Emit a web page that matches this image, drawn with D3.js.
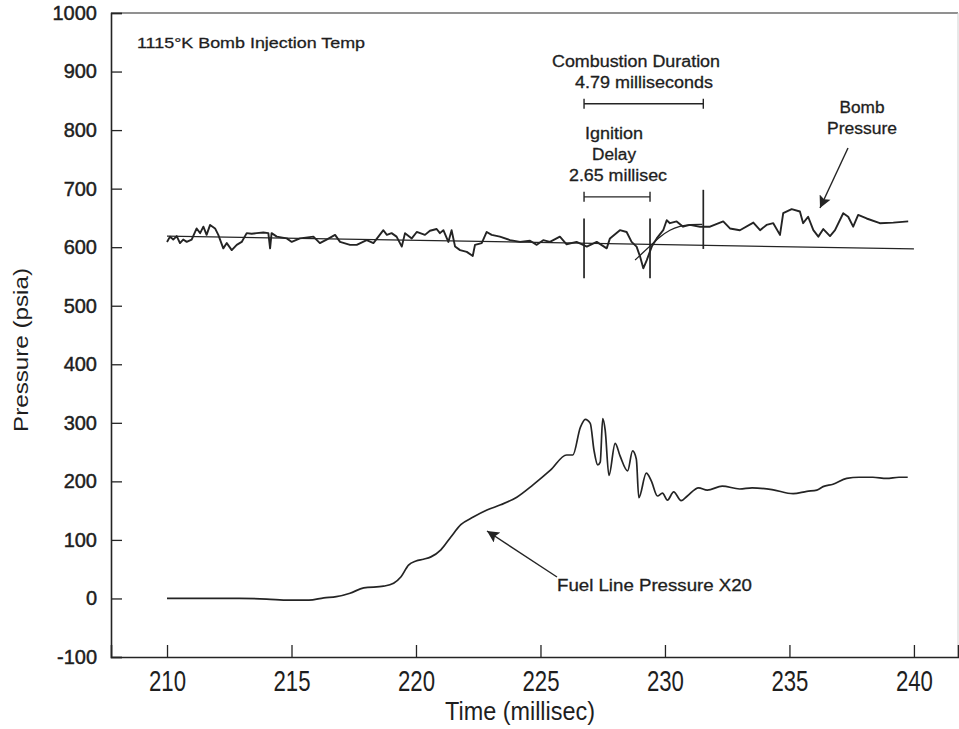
<!DOCTYPE html>
<html>
<head>
<meta charset="utf-8">
<script src="https://cdn.jsdelivr.net/npm/d3@7/dist/d3.min.js"></script>
<style>
  html, body { margin: 0; padding: 0; background: #ffffff; }
  svg { display: block; }
  text { font-family: "Liberation Sans", Arial, sans-serif; fill: #1e1e1e; }
</style>
</head>
<body>
<svg id="chart" width="959" height="729"></svg>
<script>
// Fuel line pressure (plotted x20), time in ms
const fuelTime = [210.0, 211.3, 212.9, 214.0, 214.9, 215.7, 216.3, 216.8, 217.35, 217.9, 218.7, 219.1, 219.4, 219.7, 220.0, 220.3, 220.6, 221.0, 221.4, 221.8, 222.3, 222.85, 223.4, 224.05, 224.7, 225.4, 226.05, 226.3, 226.6, 226.8, 227.0, 227.15, 227.3, 227.4, 227.5, 227.6, 227.75, 228.0, 228.2, 228.5, 228.7, 228.85, 228.95, 229.25, 229.45, 229.7, 229.9, 230.1, 230.35, 230.65, 230.9, 231.35, 231.7, 232.3, 233.0, 233.5, 234.3, 235.15, 235.7, 236.1, 236.35, 236.75, 237.3, 237.8, 238.35, 238.9, 239.4, 239.75];
const fuelPsi = [0, 0, 0, -1, -3, -3, 1, 3, 9, 18, 21, 26, 37, 57, 64, 67, 71, 83, 105, 126, 139, 151, 160, 173, 194, 219, 245, 245, 292, 306, 299, 253, 228, 233, 307, 287, 210, 265, 243, 218, 252, 238, 172, 214, 201, 175, 180, 168, 182, 167, 175, 189, 185, 192, 187, 189, 186, 179, 183, 185, 191, 195, 205, 207, 207, 205, 207, 207];

// Bomb pressure trace
const bombTime = [210.0, 210.12, 210.25, 210.39, 210.52, 210.65, 210.79, 210.99, 211.19, 211.33, 211.46, 211.59, 211.73, 211.93, 212.06, 212.26, 212.40, 212.60, 212.80, 213.00, 213.20, 213.40, 213.60, 213.87, 214.07, 214.14, 214.20, 214.41, 214.81, 215.01, 215.34, 215.88, 216.14, 216.41, 216.75, 216.95, 217.35, 217.62, 218.02, 218.29, 218.69, 218.83, 219.02, 219.22, 219.43, 219.56, 219.83, 220.03, 220.36, 220.56, 220.83, 220.96, 221.10, 221.30, 221.43, 221.57, 221.77, 222.04, 222.28, 222.37, 222.64, 222.84, 223.04, 223.37, 223.78, 224.18, 224.58, 224.85, 225.11, 225.38, 225.78, 226.05, 226.45, 226.86, 227.26, 227.66, 227.79, 228.19, 228.46, 228.66, 228.86, 229.00, 229.13, 229.27, 229.47, 229.67, 229.93, 230.07, 230.20, 230.47, 230.73, 231.00, 231.41, 231.81, 232.34, 232.61, 233.01, 233.55, 233.82, 234.08, 234.35, 234.62, 234.75, 235.09, 235.42, 235.55, 235.75, 235.96, 236.16, 236.36, 236.63, 236.83, 237.16, 237.36, 237.56, 237.76, 238.10, 238.63, 239.17, 239.77];
const bombPsi = [609, 618, 613, 619, 607, 613, 609, 613, 632, 624, 635, 621, 638, 632, 621, 598, 607, 595, 604, 609, 624, 623, 624, 625, 624, 598, 624, 618, 615, 609, 615, 618, 607, 613, 621, 609, 604, 604, 612, 607, 629, 621, 624, 618, 601, 624, 615, 626, 621, 628, 631, 624, 629, 609, 629, 601, 595, 592, 585, 604, 607, 626, 621, 618, 612, 609, 611, 604, 612, 609, 618, 605, 609, 601, 609, 598, 615, 629, 626, 609, 601, 584, 564, 578, 601, 615, 629, 646, 641, 644, 635, 638, 635, 635, 644, 632, 629, 642, 629, 638, 641, 621, 658, 665, 661, 641, 652, 629, 618, 631, 619, 629, 658, 652, 635, 655, 649, 641, 642, 644];

// Straight-line fit of the pre-ignition bomb pressure
const baseTime = [210, 240];
const basePsi = [619, 597];

// Smoothed pressure rise after ignition
const riseTime = [228.8, 229.1, 229.4, 229.8, 230.2, 230.6, 231.0, 231.5];
const risePsi = [578, 590, 602, 618, 630, 636, 639, 639];

// Event markers (ms) and the pressure span each marker covers
const injectionStart = 226.75;
const ignitionDelay = 2.65;
const combustionDuration = 4.79;
const markerSpan = [[547, 649], [547, 649], [597, 698]];
const bracketLevel = [845, 686];

const xTicks = [210, 215, 220, 225, 230, 235, 240];
const yTicks = [-100, 0, 100, 200, 300, 400, 500, 600, 700, 800, 900, 1000];

const svg = d3.select("#chart");
const plotLeft = 111, plotRight = 958, plotTop = 13, plotBottom = 657;

const x = d3.scaleLinear().domain([207.75, 241.77]).range([plotLeft, plotRight]);
const y = d3.scaleLinear().domain([-100, 1000]).range([plotBottom, plotTop]);

const ink = "#242424";

// Frame
svg.append("line").attr("x1", plotLeft).attr("x2", plotRight).attr("y1", plotTop).attr("y2", plotTop)
  .attr("stroke", ink).attr("stroke-width", 1.2);
svg.append("line").attr("x1", plotRight).attr("x2", plotRight).attr("y1", plotTop).attr("y2", plotBottom)
  .attr("stroke", "#d0d0d0").attr("stroke-width", 1);

// Y axis with inward ticks
const yAxis = d3.axisLeft(y).tickValues(yTicks).tickSize(-11).tickPadding(14).tickFormat(d => String(d));
const gy = svg.append("g").attr("transform", `translate(${plotLeft},0)`).call(yAxis);
gy.select(".domain").attr("stroke", ink).attr("stroke-width", 1.6);
gy.selectAll(".tick line").attr("stroke", ink).attr("stroke-width", 1.3);
gy.selectAll(".tick text").attr("font-size", 20).attr("font-family", "Liberation Sans, Arial, sans-serif")
  .attr("fill", "#1e1e1e").attr("stroke", "#1e1e1e").attr("stroke-width", 0.45).attr("x", -14);

// X axis with inward ticks, tall condensed labels
const xAxis = d3.axisBottom(x).tickValues(xTicks).tickSize(-12).tickPadding(10).tickFormat(d => String(d));
const gx = svg.append("g").attr("transform", `translate(0,${plotBottom})`).call(xAxis);
gx.select(".domain").attr("stroke", ink).attr("stroke-width", 1.6);
gx.selectAll(".tick line").attr("stroke", ink).attr("stroke-width", 1.3);
gx.selectAll(".tick text").attr("font-size", 30).attr("font-family", "Liberation Sans, Arial, sans-serif")
  .attr("fill", "#1e1e1e").attr("y", 34).attr("dy", 0)
  .attr("textLength", 37).attr("lengthAdjust", "spacingAndGlyphs");

// Axis titles
svg.append("text").attr("x", 520).attr("y", 720).attr("text-anchor", "middle")
  .attr("font-size", 25).attr("textLength", 150).attr("lengthAdjust", "spacingAndGlyphs")
  .text("Time (millisec)");
svg.append("text").attr("transform", "translate(28,350) rotate(-90)").attr("text-anchor", "middle")
  .attr("font-size", 21).attr("textLength", 164).attr("lengthAdjust", "spacingAndGlyphs")
  .text("Pressure (psia)");

const line = d3.line().x(d => x(d[0])).y(d => y(d[1]));
const zip = (a, b) => a.map((v, i) => [v, b[i]]);

// Curves
svg.append("path").datum(zip(baseTime, basePsi)).attr("d", line)
  .attr("fill", "none").attr("stroke", ink).attr("stroke-width", 1.3);
svg.append("path").datum(zip(riseTime, risePsi)).attr("d", line.curve(d3.curveBasis))
  .attr("fill", "none").attr("stroke", ink).attr("stroke-width", 1.3);
line.curve(d3.curveLinear);
svg.append("path").datum(zip(bombTime, bombPsi)).attr("d", line)
  .attr("fill", "none").attr("stroke", ink).attr("stroke-width", 1.9).attr("stroke-linejoin", "round");
svg.append("path").datum(zip(fuelTime, fuelPsi)).attr("d", line.curve(d3.curveMonotoneX))
  .attr("fill", "none").attr("stroke", ink).attr("stroke-width", 1.7).attr("stroke-linejoin", "round");

// Event markers
const tIgn = injectionStart + ignitionDelay;
const tEnd = injectionStart + combustionDuration;
[injectionStart, tIgn, tEnd].forEach((t, i) => {
  svg.append("line").attr("x1", x(t)).attr("x2", x(t))
    .attr("y1", y(markerSpan[i][0])).attr("y2", y(markerSpan[i][1]))
    .attr("stroke", ink).attr("stroke-width", 1.7);
});

// Duration brackets
function bracket(t0, t1, v) {
  const g = svg.append("g").attr("stroke", ink).attr("stroke-width", 1.4);
  g.append("line").attr("x1", x(t0)).attr("x2", x(t1)).attr("y1", y(v)).attr("y2", y(v));
  [t0, t1].forEach(t => g.append("line").attr("x1", x(t)).attr("x2", x(t))
    .attr("y1", y(v) - 5).attr("y2", y(v) + 5));
}
bracket(injectionStart, tEnd, bracketLevel[0]);
bracket(injectionStart, tIgn, bracketLevel[1]);

// Annotations
const note = (tx, ty, s, size, width, anchor) => svg.append("text").attr("x", tx).attr("y", ty)
  .attr("text-anchor", anchor || "middle").attr("font-size", size)
  .attr("stroke", "#1e1e1e").attr("stroke-width", 0.3)
  .attr("textLength", width).attr("lengthAdjust", "spacingAndGlyphs").text(s);

note(137, 48, "1115°K Bomb Injection Temp", 15.5, 228, "start");
note(636, 67, "Combustion Duration", 16, 168);
note(644, 88, "4.79 milliseconds", 16, 138);
note(614, 139, "Ignition", 16, 58);
note(614, 160, "Delay", 16, 44);
note(618, 181, "2.65 millisec", 16, 98);
note(862, 113, "Bomb", 16, 45);
note(862, 134, "Pressure", 16, 70);
note(557, 591, "Fuel Line Pressure X20", 16, 195, "start");

// Arrows
svg.append("defs").append("marker").attr("id", "head").attr("viewBox", "0 0 10 10")
  .attr("refX", 10).attr("refY", 5).attr("markerWidth", 22).attr("markerHeight", 12)
  .attr("markerUnits", "userSpaceOnUse").attr("orient", "auto")
  .append("path").attr("d", "M0,0 L10,5 L0,10 L2,5 Z").attr("fill", ink);

svg.append("line").attr("x1", 848).attr("y1", 148).attr("x2", 820).attr("y2", 208)
  .attr("stroke", ink).attr("stroke-width", 1.4).attr("marker-end", "url(#head)");
svg.append("line").attr("x1", 557).attr("y1", 577).attr("x2", 487).attr("y2", 531)
  .attr("stroke", ink).attr("stroke-width", 1.4).attr("marker-end", "url(#head)");
</script>
</body>
</html>
